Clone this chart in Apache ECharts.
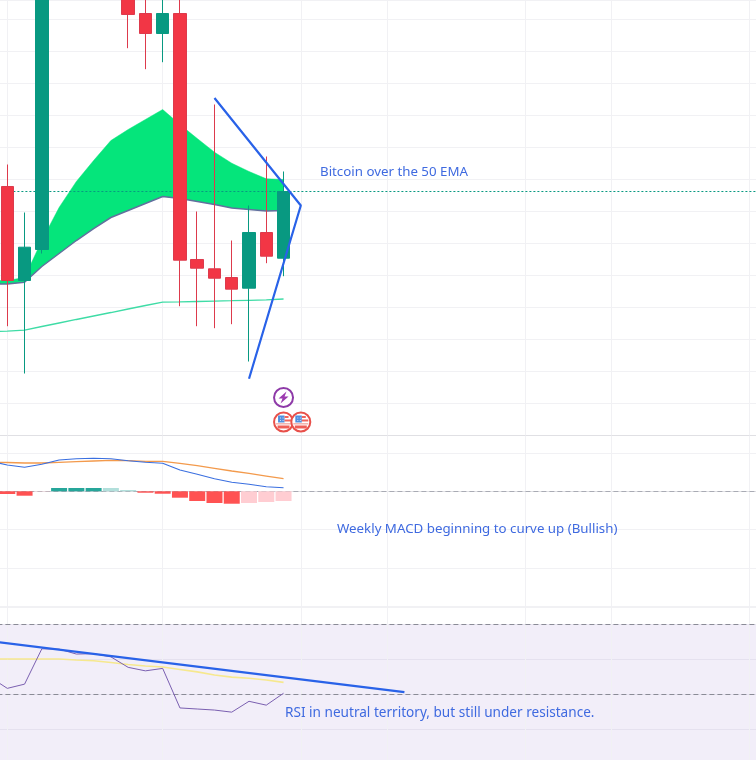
<!DOCTYPE html>
<html><head><meta charset="utf-8">
<style>html,body{margin:0;padding:0;background:#fff}#c{width:756px;height:760px}</style>
<script src="https://cdn.jsdelivr.net/npm/echarts@6/dist/echarts.min.js"></script>
</head><body><div id="c"></div>
<script>
// week slots (slot 0 sits just off the left edge)
const weeks = Array.from({length:46},(_,i)=>'W'+i);
const monthStarts = ['W1','W10','W18','W23','W31','W36','W44'];

// [open, close, low, high]
const candles = [
 '-',
 [19772,16834,15406,20459],[16834,17875,13928,18959],[17803,27147,17678,28000],
 '-','-','-','-',
 [27000,25147,24094,27500],[25178,24553,23438,26500],[24553,25178,23656,26800],
 [25178,17469,16031,26300],[17491,17219,15406,18991],[17200,16906,15344,22334],
 [16928,16563,15469,18084],[16594,18334,14303,19178],[18334,17594,17375,20709],
 [17531,19616,16969,20241]
];
const lastClose = 19616;
const emaFastTop = [16834,16834,16928,18084,19116,19928,20584,21209,21553,21866,22178,21709,21272,20844,20500,20241,20013,19991];
const emaFastBottom = [16725,16725,16781,17272,17678,18084,18459,18803,19022,19241,19459,19397,19303,19209,19100,19053,19006,19022];
const emaSlow = [15241,15250,15281,15397,15506,15616,15725,15834,15944,16053,16156,16166,16178,16191,16203,16216,16228,16256];
const wedge = [['W13',22538],['W18',19178],['W15',13763]];
const eventBolt = [['W17',13178]];
const eventFlags = [['W17',12413],['W18',12413]];

const macdLine = [791,687,627,705,817,851,862,851,799,757,731,556,444,329,235,183,120,94];
const macdSignal = [765,752,739,739,757,773,791,809,799,783,783,731,668,601,530,470,399,329];
const macdHist = ['-',-70,-115,-8,86,86,86,86,34,-37,-63,-167,-253,-305,-324,-305,-279,-253];
const histTone = ['', 'r','r','p','g','g','g','l','l','r','r','r','r','r','r','p','p','p'];

const rsi = [54.9,51.7,52.9,63.0,62.9,61.5,61.6,60.7,57.7,56.7,57.4,46.1,45.8,45.5,44.9,48.0,46.9,50.3];
const rsiMa = [60.1,60.1,60.1,60.1,60.1,59.8,59.6,59.1,58.5,58.1,57.8,57.1,56.4,55.5,54.9,54.6,54.1,53.4];
const rsiResistance = [['W0',65.2],['W24',50.6]];

const notePrice = 'Bitcoin over the 50 EMA';
const noteMacd = 'Weekly MACD beginning to curve up (Bullish)';
const noteRsi = 'RSI in neutral territory, but still under resistance.';

const GRID='#f1f1f4', SEP='#e0e0e4', BLUE='#2962e8', TEXT='#3f6ae0';
const toneColor={r:'#ff5252',p:'#ffcdd2',g:'#26a69a',l:'#b2dfdb'};
const LEFT=-18.6, W=794.2;

function xAxis(i,line){return {gridIndex:i,type:'category',data:weeks,position:'bottom',
  axisLabel:{show:false},axisTick:{show:false},splitLine:{show:false},
  axisLine:{show:line,lineStyle:{color:SEP,width:1}}};}
function yAxis(i,min,max,interval){return {gridIndex:i,type:'value',min,max,interval,scale:true,
  axisLabel:{show:false},axisTick:{show:false},axisLine:{show:false},
  splitLine:{show:true,lineStyle:{color:GRID,width:1}}};}
function vgrid(i){return {type:'line',xAxisIndex:i,yAxisIndex:i,data:[],z:1,silent:true,
  markLine:{z:1,silent:true,symbol:'none',label:{show:false},animation:false,
    lineStyle:{color:GRID,width:1,type:'solid'},data:monthStarts.map(m=>({xAxis:m}))}};}
function hdash(i,vals,color,dash,z,w){return {type:'line',xAxisIndex:i,yAxisIndex:i,data:[],z:z||2,silent:true,
  markLine:{z:z||2,silent:true,symbol:'none',label:{show:false},animation:false,
    lineStyle:{color,width:w||1,type:dash||[5,3]},data:vals.map(v=>({yAxis:v}))}};}
function line(i,data,color,width,extra){return Object.assign({type:'line',xAxisIndex:i,yAxisIndex:i,data,symbol:'none',
  showSymbol:false,silent:true,animation:false,z:4,lineStyle:{color,width}},extra||{});}

function icon(params,api){
  const p=api.coord([api.value(0),api.value(1)]);
  const kids=[];
  const c=(r,fill,stroke,lw)=>kids.push({type:'circle',shape:{cx:p[0],cy:p[1],r},style:{fill,stroke,lineWidth:lw||0}});
  const R=(x,y,w,h,fill)=>kids.push({type:'rect',shape:{x:p[0]+x,y:p[1]+y,width:w,height:h},style:{fill}});
  if(params.seriesName==='bolt'){
    c(9.5,'#fff','#8e3aa8',2);
    kids.push({type:'polygon',shape:{points:[[3,-6],[-5,1],[-1,1],[-3,6],[5,-1],[1,-1]].map(q=>[p[0]+q[0],p[1]+q[1]])},style:{fill:'#9c3ab0'}});
  }else{
    c(9.5,'#fff','#e8504a',2);
    R(-5.5,-6.5,6.5,7,'#4f8fe0');
    R(-3.5,-4.5,1,1,'#cfe0f5');R(-1,-4.5,1,1,'#cfe0f5');R(-3.5,-2,1,1,'#cfe0f5');R(-1,-2,1,1,'#cfe0f5');
    R(1,-6,4,2,'#f0645c');
    R(1,-2.5,6.5,2,'#f0645c');
    R(-7.5,1,15,1.6,'#f4b5b0');
    R(-6,3.5,12,3,'#ef5f58');
  }
  return {type:'group',children:kids};
}

const option={
  animation:false,backgroundColor:'#ffffff',
  grid:[
    {left:LEFT,width:W,top:0,height:435.2,outerBoundsMode:'none'},
    {left:LEFT,width:W,top:435.7,height:170.5,outerBoundsMode:'none'},
    {left:LEFT,width:W,top:606.8,height:157.5,outerBoundsMode:'none'}
  ],
  xAxis:[xAxis(0,true),xAxis(1,true),xAxis(2,false)],
  yAxis:[yAxis(0,12000,25600,1000),yAxis(1,-3000,1452,1000),yAxis(2,30,75,10)],
  series:[
    vgrid(0),vgrid(1),
    {type:'line',xAxisIndex:2,yAxisIndex:2,data:[],z:0,silent:true,
      markArea:{z:0,silent:true,animation:false,itemStyle:{color:'rgba(126,87,194,0.1)'},data:[[{yAxis:30},{yAxis:70}]]}},
    vgrid(2),
    // price pane
    line(0,emaSlow,'#3fdca6',1.3),
    line(0,emaFastBottom,'#62709e',1.5,{stack:'ribbon',z:3}),
    line(0,emaFastTop.map((v,i)=>v-emaFastBottom[i]),'#05e57b',0.5,{stack:'ribbon',z:3,areaStyle:{color:'#05e57b',opacity:1}}),
    hdash(0,[lastClose],'#089981',[2,2],4),
    {type:'candlestick',xAxisIndex:0,yAxisIndex:0,data:candles,barWidth:13,z:5,silent:true,animation:false,
      itemStyle:{color:'#089981',color0:'#f23645',borderColor:'#089981',borderColor0:'#dd3a4c',borderWidth:1}},
    line(0,wedge,BLUE,2.2,{z:6}),
    {type:'custom',name:'bolt',xAxisIndex:0,yAxisIndex:0,data:eventBolt,renderItem:icon,z:7,silent:true,animation:false},
    {type:'custom',name:'flag',xAxisIndex:0,yAxisIndex:0,data:eventFlags,renderItem:icon,z:7,silent:true,animation:false},
    // MACD pane
    hdash(1,[0],'#a9abb4'),
    {type:'bar',xAxisIndex:1,yAxisIndex:1,barWidth:16,z:3,silent:true,animation:false,
      data:macdHist.map((v,i)=>v==='-'?v:({value:v,itemStyle:{color:toneColor[histTone[i]]}}))},
    line(1,macdSignal,'#f39a4c',1.3),
    line(1,macdLine,'#3a6fe0',1.1,{z:5}),
    // RSI pane
    hdash(2,[70,50],'#8a8b96'),
    line(2,rsiMa,'#f6e88e',1.6),
    line(2,rsi,'#7a5fb0',1,{z:5}),
    line(2,rsiResistance,BLUE,2.2,{z:6})
  ],
  graphic:[
    {type:'text',left:320,top:165.5,z:20,style:{text:notePrice,fill:TEXT,font:'13.3px "Noto Sans"'}},
    {type:'text',left:337,top:522.5,z:20,style:{text:noteMacd,fill:TEXT,font:'13.3px "Noto Sans"'}},
    {type:'text',left:285,top:706.5,z:20,style:{text:noteRsi,fill:TEXT,font:'13.6px "Noto Sans"'}}
  ]
};
echarts.init(document.getElementById('c'),null,{renderer:'canvas'}).setOption(option);
</script></body></html>
